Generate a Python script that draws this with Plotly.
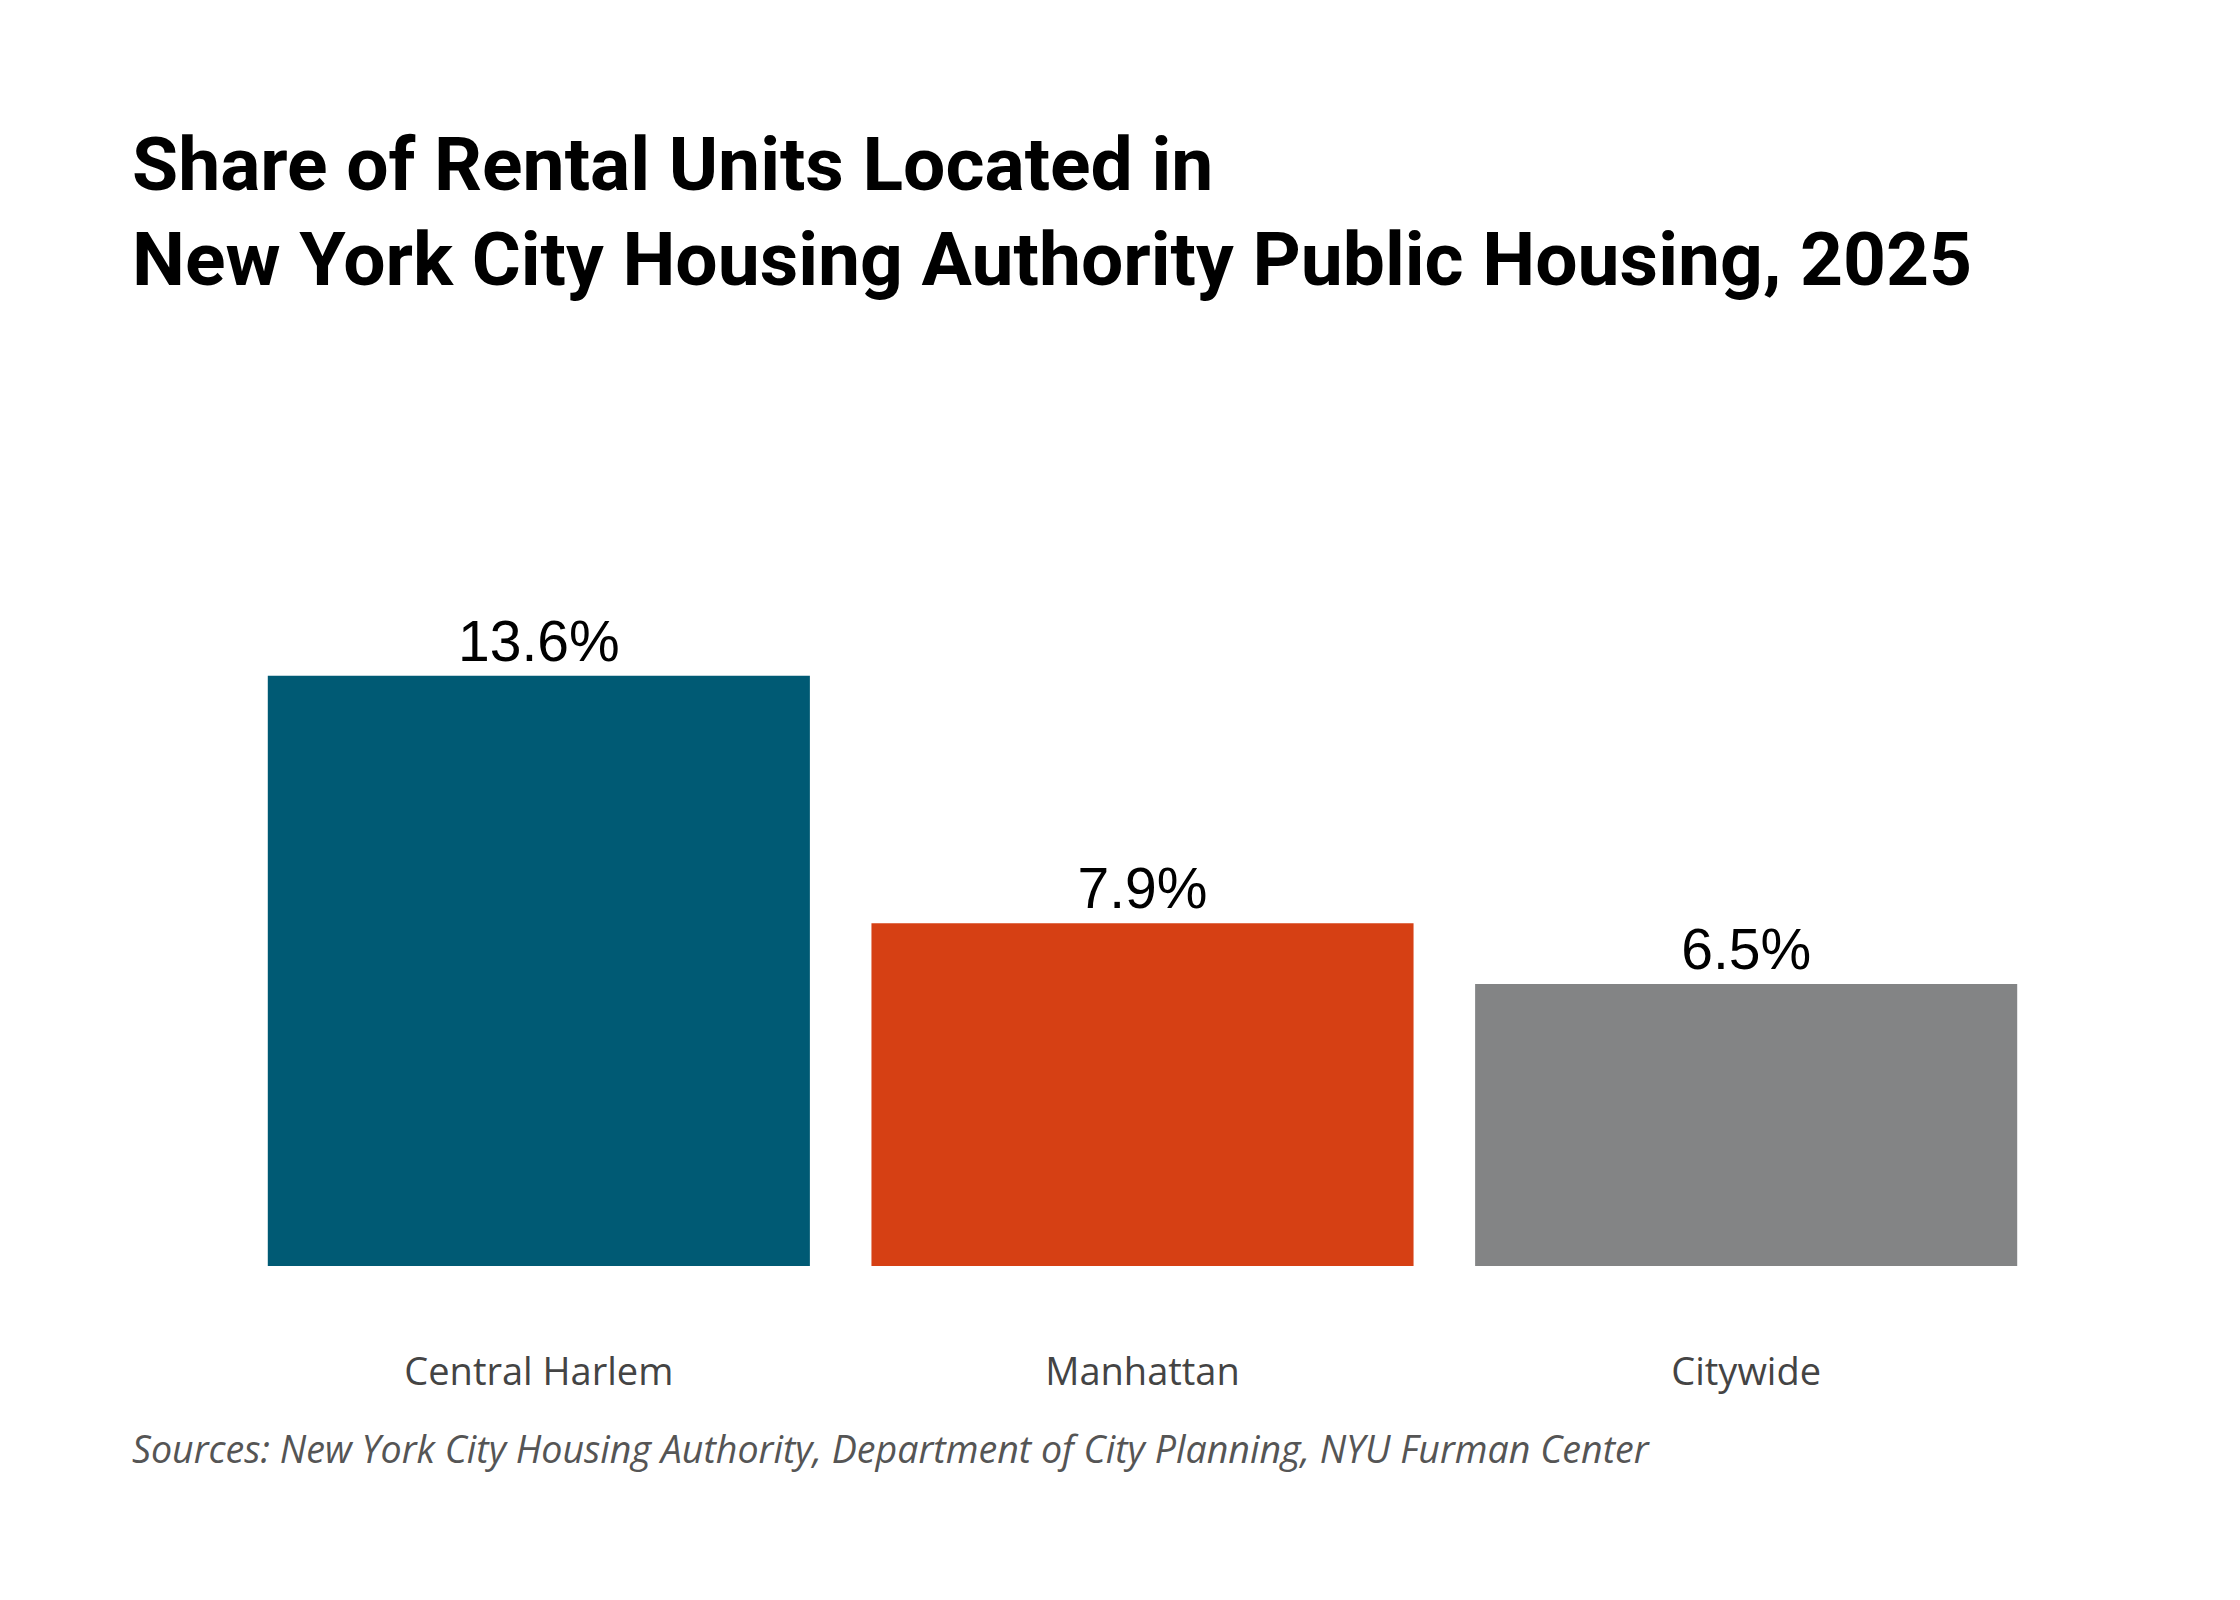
import plotly.graph_objects as go

# Daten
categories = ["Central Harlem", "Manhattan", "Citywide"]
shares = [13.6, 7.9, 6.5]
bar_colors = ["#005a74", "#d64014", "#838485"]
title_lines = [
    "Share of Rental Units Located in",
    "New York City Housing Authority Public Housing, 2025",
]
source_text = "Sources: New York City Housing Authority, Department of City Planning, NYU Furman Center"

W, H = 2240, 1600

fig = go.Figure()
fig.add_trace(go.Bar(
    x=categories,
    y=shares,
    marker=dict(color=bar_colors, line=dict(width=0)),
    text=[f"{v:.1f}%" for v in shares],
    textposition="outside",
    cliponaxis=False,
    textfont=dict(family="Liberation Sans, Arial", size=57, color="#000000"),
    hoverinfo="skip",
))

# Titel, zwei Zeilen
fig.add_annotation(xref="paper", yref="paper", x=-0.059, y=1.622,
                   text=f"<b>{title_lines[0]}</b>", showarrow=False,
                   xanchor="left", yanchor="bottom",
                   font=dict(family="Roboto", size=75, color="#000000"))
fig.add_annotation(xref="paper", yref="paper", x=-0.059, y=1.476,
                   text=f"<b>{title_lines[1]}</b>", showarrow=False,
                   xanchor="left", yanchor="bottom",
                   font=dict(family="Roboto", size=75, color="#000000"))

# Quellenangabe
fig.add_annotation(xref="paper", yref="paper", x=-0.059, y=-0.281,
                   text=f"<i>{source_text}</i>", showarrow=False,
                   xanchor="left", yanchor="middle",
                   font=dict(family="Open Sans", size=37.6, color="#555555"))

# Seitenrand des Browsers (8px) ausgleichen
fig.update_layout(
    width=W, height=H,
    margin=dict(l=229, r=200, t=607, b=342),
    paper_bgcolor="white",
    plot_bgcolor="white",
    bargap=0.102,
    showlegend=False,
    xaxis=dict(showline=False, showgrid=False, zeroline=False, ticks="",
               ticklabelstandoff=80,
               tickfont=dict(family="Open Sans", size=38, color="#444444")),
    yaxis=dict(range=[0, 15], visible=False, showgrid=False, zeroline=False),
)

fig.write_html("out.html")
